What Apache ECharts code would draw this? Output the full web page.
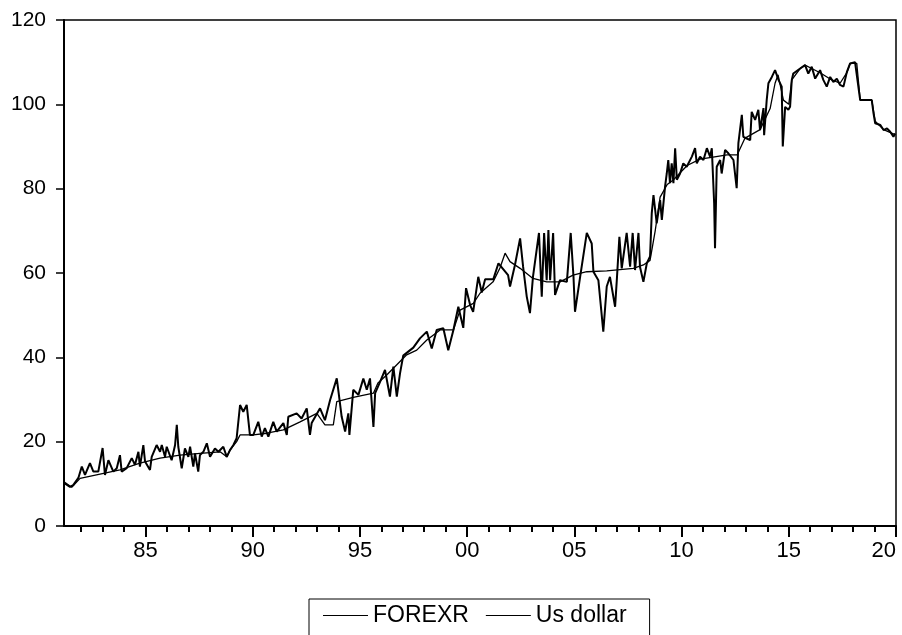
<!DOCTYPE html>
<html>
<head>
<meta charset="utf-8">
<script src="https://cdn.jsdelivr.net/npm/echarts@6/dist/echarts.min.js"></script>
<style>
  html, body { margin: 0; padding: 0; background: #fff; }
  #chart { width: 902px; height: 635px; }
</style>
</head>
<body>
<div id="chart"></div>
<script>
// FOREXR (noisy monthly series)
const forexrYears = [
  1981.20, 1981.48, 1981.63, 1981.87, 1982.03, 1982.18, 1982.41, 1982.57, 1982.80, 1983.00,
  1983.11, 1983.27, 1983.50, 1983.66, 1983.81, 1983.89, 1984.12, 1984.36, 1984.51, 1984.67,
  1984.74, 1984.90, 1984.98, 1985.21, 1985.29, 1985.52, 1985.68, 1985.76, 1985.91, 1985.99,
  1986.22, 1986.38, 1986.46, 1986.53, 1986.69, 1986.84, 1987.00, 1987.08, 1987.23, 1987.31,
  1987.46, 1987.54, 1987.70, 1987.86, 1988.01, 1988.24, 1988.40, 1988.63, 1988.79, 1988.94,
  1989.10, 1989.25, 1989.41, 1989.56, 1989.72, 1989.87, 1990.03, 1990.26, 1990.42, 1990.57,
  1990.73, 1990.96, 1991.12, 1991.43, 1991.59, 1991.66, 1992.05, 1992.28, 1992.52, 1992.67,
  1992.75, 1993.14, 1993.37, 1993.61, 1993.92, 1993.99, 1994.15, 1994.31, 1994.46, 1994.51,
  1994.69, 1994.93, 1995.16, 1995.32, 1995.47, 1995.63, 1995.71, 1995.94, 1996.17, 1996.40,
  1996.56, 1996.72, 1996.87, 1997.02, 1997.49, 1997.80, 1998.12, 1998.35, 1998.58, 1998.89,
  1999.12, 1999.36, 1999.59, 1999.82, 1999.95, 2000.14, 2000.28, 2000.52, 2000.68, 2000.84,
  2001.22, 2001.46, 2001.91, 2002.00, 2002.23, 2002.47, 2002.61, 2002.78, 2002.93, 2003.07,
  2003.35, 2003.48, 2003.59, 2003.71, 2003.79, 2003.87, 2004.01, 2004.10, 2004.33, 2004.65,
  2004.83, 2004.96, 2005.03, 2005.27, 2005.58, 2005.81, 2005.89, 2006.12, 2006.35, 2006.51,
  2006.66, 2006.90, 2006.98, 2007.10, 2007.21, 2007.44, 2007.60, 2007.72, 2007.83, 2007.99,
  2008.06, 2008.22, 2008.38, 2008.53, 2008.61, 2008.69, 2008.84, 2009.00, 2009.08, 2009.23,
  2009.31, 2009.38, 2009.46, 2009.54, 2009.62, 2009.70, 2009.78, 2009.93, 2010.08, 2010.24,
  2010.48, 2010.63, 2010.71, 2010.86, 2011.02, 2011.18, 2011.33, 2011.41, 2011.52, 2011.56,
  2011.64, 2011.80, 2011.87, 2012.03, 2012.18, 2012.42, 2012.57, 2012.65, 2012.81, 2012.88,
  2013.04, 2013.20, 2013.27, 2013.43, 2013.58, 2013.66, 2013.82, 2013.85, 2013.97, 2014.05,
  2014.21, 2014.36, 2014.44, 2014.52, 2014.67, 2014.72, 2014.83, 2014.98, 2015.06, 2015.14,
  2015.21, 2015.53, 2015.76, 2015.91, 2016.07, 2016.23, 2016.46, 2016.61, 2016.77, 2016.93,
  2017.08, 2017.24, 2017.39, 2017.55, 2017.71, 2017.86, 2018.09, 2018.17, 2018.33, 2018.71,
  2018.87, 2018.95, 2019.03, 2019.27, 2019.42, 2019.58, 2019.73, 2019.88, 2019.96
];
const forexrValues = [
  10.2, 9.3, 9.7, 11.4, 14.1, 12.1, 14.9, 12.9, 12.9, 18.5,
  12.1, 15.6, 12.9, 13.7, 16.8, 12.9, 13.7, 16.1, 14.5, 17.6,
  14.1, 19.2, 15.3, 13.3, 16.4, 19.2, 17.6, 19.2, 16.4, 18.8,
  15.6, 19.2, 24.0, 18.8, 13.7, 18.4, 16.4, 18.8, 14.1, 17.2,
  12.9, 16.8, 17.6, 19.6, 16.4, 18.4, 17.6, 18.8, 16.4, 18.0,
  19.2, 20.8, 28.7, 27.1, 28.7, 21.6, 21.6, 24.7, 21.2, 23.2,
  21.2, 24.7, 22.4, 24.4, 21.6, 25.9, 26.7, 25.5, 27.9, 21.6,
  24.4, 27.9, 25.1, 29.9, 35.0, 32.3, 25.9, 22.4, 26.7, 21.6,
  32.3, 31.1, 35.0, 32.3, 35.0, 23.5, 31.5, 34.2, 37.0, 30.7,
  37.8, 30.7, 36.2, 40.4, 42.3, 44.5, 46.1, 42.1, 46.5, 46.9,
  41.7, 46.5, 52.0, 47.0, 56.4, 52.4, 50.8, 59.1, 55.4, 58.5,
  58.5, 62.3, 59.5, 56.8, 61.9, 68.2, 61.5, 54.4, 50.5, 59.1,
  69.5, 54.4, 69.5, 58.3, 70.2, 58.3, 69.5, 54.8, 58.3, 57.9,
  69.5, 59.1, 50.8, 59.1, 69.5, 67.0, 60.3, 58.3, 46.1, 56.8,
  59.1, 52.0, 58.3, 68.6, 61.1, 69.5, 61.5, 69.5, 60.7, 69.5,
  61.5, 57.9, 62.3, 63.9, 74.2, 78.5, 71.8, 77.3, 72.6, 80.5,
  83.6, 86.8, 81.3, 86.0, 81.3, 89.6, 82.1, 83.6, 86.0, 85.2,
  87.6, 89.6, 86.0, 87.6, 86.8, 89.6, 87.6, 89.6, 76.5, 65.9,
  85.2, 86.8, 83.6, 89.2, 88.4, 86.8, 80.1, 90.8, 97.5, 92.3,
  91.9, 91.5, 98.2, 96.3, 98.7, 93.9, 99.1, 92.7, 101.0, 105.0,
  106.5, 108.1, 107.7, 105.8, 104.2, 90.0, 99.4, 98.7, 99.4, 105.8,
  107.3, 108.5, 109.3, 107.3, 108.9, 106.1, 108.1, 105.8, 104.2, 106.5,
  105.3, 106.1, 104.6, 104.2, 107.7, 109.7, 110.0, 109.7, 101.0, 101.0,
  101.0, 97.9, 95.5, 95.1, 93.9, 94.3, 93.5, 92.3, 93.1
];

// Us dollar (smooth series)
const dollarYears = [
  1981.20, 1981.56, 1981.95, 1982.88, 1983.81, 1984.74, 1985.68, 1986.61, 1987.54, 1988.48,
  1988.79, 1988.94, 1989.25, 1989.41, 1990.03, 1990.66, 1991.43, 1992.21, 1992.99, 1993.37,
  1993.76, 1993.92, 1994.69, 1995.63, 1995.84, 1996.25, 1996.87, 1997.18, 1997.65, 1998.12,
  1998.74, 1999.36, 1999.67, 2000.29, 2000.60, 2001.21, 2001.53, 2001.77, 2002.00, 2002.47,
  2003.07, 2003.71, 2004.33, 2004.94, 2005.58, 2006.51, 2007.75, 2008.22, 2008.53, 2008.77,
  2009.00, 2009.33, 2009.60, 2010.26, 2010.86, 2011.47, 2012.12, 2012.59, 2012.96, 2013.66,
  2014.13, 2014.36, 2014.50, 2014.75, 2015.00, 2015.14, 2015.53, 2015.76, 2016.07, 2016.46,
  2016.93, 2017.39, 2017.71, 2017.86, 2018.17, 2018.33, 2018.87, 2019.03, 2019.42, 2019.96
];
const dollarValues = [
  10.5, 9.2, 11.3, 12.3, 13.3, 14.9, 16.1, 16.8, 17.2, 17.6,
  16.4, 18.0, 20.0, 21.6, 21.6, 22.0, 22.8, 24.7, 26.7, 24.0,
  24.0, 29.5, 30.5, 31.5, 33.9, 35.8, 39.0, 40.6, 41.7, 44.1,
  46.5, 46.5, 51.2, 52.8, 55.2, 57.9, 61.2, 64.7, 62.7, 61.1,
  58.7, 57.9, 57.9, 59.5, 60.3, 60.5, 61.1, 61.9, 63.0, 70.0,
  78.0, 81.0, 82.0, 85.5, 87.0, 87.5, 88.0, 88.0, 92.0, 94.0,
  99.0, 105.0, 107.0, 101.0, 100.0, 105.8, 108.5, 109.3, 108.5, 107.5,
  106.0, 105.0, 107.5, 109.7, 109.7, 101.0, 101.0, 96.0, 94.0, 92.8
];

const majorYears = [1985, 1990, 1995, 2000, 2005, 2010, 2015, 2020];
const minorYears = [1982, 1983, 1984, 1986, 1987, 1988, 1989, 1991, 1992, 1993, 1994,
  1996, 1997, 1998, 1999, 2001, 2002, 2003, 2004, 2006, 2007, 2008, 2009,
  2011, 2012, 2013, 2014, 2016, 2017, 2018, 2019];

const zip = (xs, ys) => xs.map((x, i) => [x, ys[i]]);

const chart = echarts.init(document.getElementById('chart'));
const font = 'Liberation Sans, Arial, sans-serif';

chart.setOption({
  animation: false,
  backgroundColor: '#fff',
  grid: {
    left: 64, right: 6, top: 20, bottom: 109,
    containLabel: false,
    outerBoundsMode: 'none',
    show: true, borderColor: '#000', borderWidth: 1.5
  },
  legend: {
    left: 309, top: 599,
    orient: 'horizontal',
    padding: [5, 23, 30, 14],
    itemGap: 17,
    icon: 'rect',
    itemWidth: 45,
    itemHeight: 1,
    borderColor: '#000',
    borderWidth: 1,
    textStyle: { color: '#000', fontSize: 23, fontFamily: font },
    data: ['FOREXR', 'Us dollar']
  },
  xAxis: [
    {
      type: 'value',
      min: 1981.2, max: 2020.0,
      splitLine: { show: false },
      axisLine: { lineStyle: { color: '#000', width: 2 } },
      axisTick: { customValues: majorYears, length: 11, lineStyle: { color: '#000', width: 2 } },
      axisLabel: {
        customValues: majorYears,
        showMaxLabel: true,
        alignMaxLabel: 'right',
        margin: 14,
        color: '#000', fontSize: 22, fontFamily: font,
        formatter: v => String(Math.round(v) % 100).padStart(2, '0')
      }
    },
    {
      type: 'value',
      position: 'bottom',
      min: 1981.2, max: 2020.0,
      splitLine: { show: false },
      axisLine: { show: false },
      axisTick: { customValues: minorYears, length: 6, lineStyle: { color: '#000', width: 2 } },
      axisLabel: { show: false }
    }
  ],
  yAxis: {
    type: 'value',
    min: 0, max: 120, interval: 20,
    splitLine: { show: false },
    axisLine: { show: true, lineStyle: { color: '#000', width: 2 } },
    axisTick: { show: true, length: 8, lineStyle: { color: '#000', width: 1.5 } },
    axisLabel: { margin: 18, color: '#000', fontSize: 21, fontFamily: font }
  },
  series: [
    {
      name: 'FOREXR',
      type: 'line',
      symbol: 'none',
      data: zip(forexrYears, forexrValues),
      lineStyle: { color: '#000', width: 2 },
      itemStyle: { color: '#000' }
    },
    {
      name: 'Us dollar',
      type: 'line',
      symbol: 'none',
      data: zip(dollarYears, dollarValues),
      lineStyle: { color: '#000', width: 1.3 },
      itemStyle: { color: '#000' }
    }
  ]
});
</script>
</body>
</html>
